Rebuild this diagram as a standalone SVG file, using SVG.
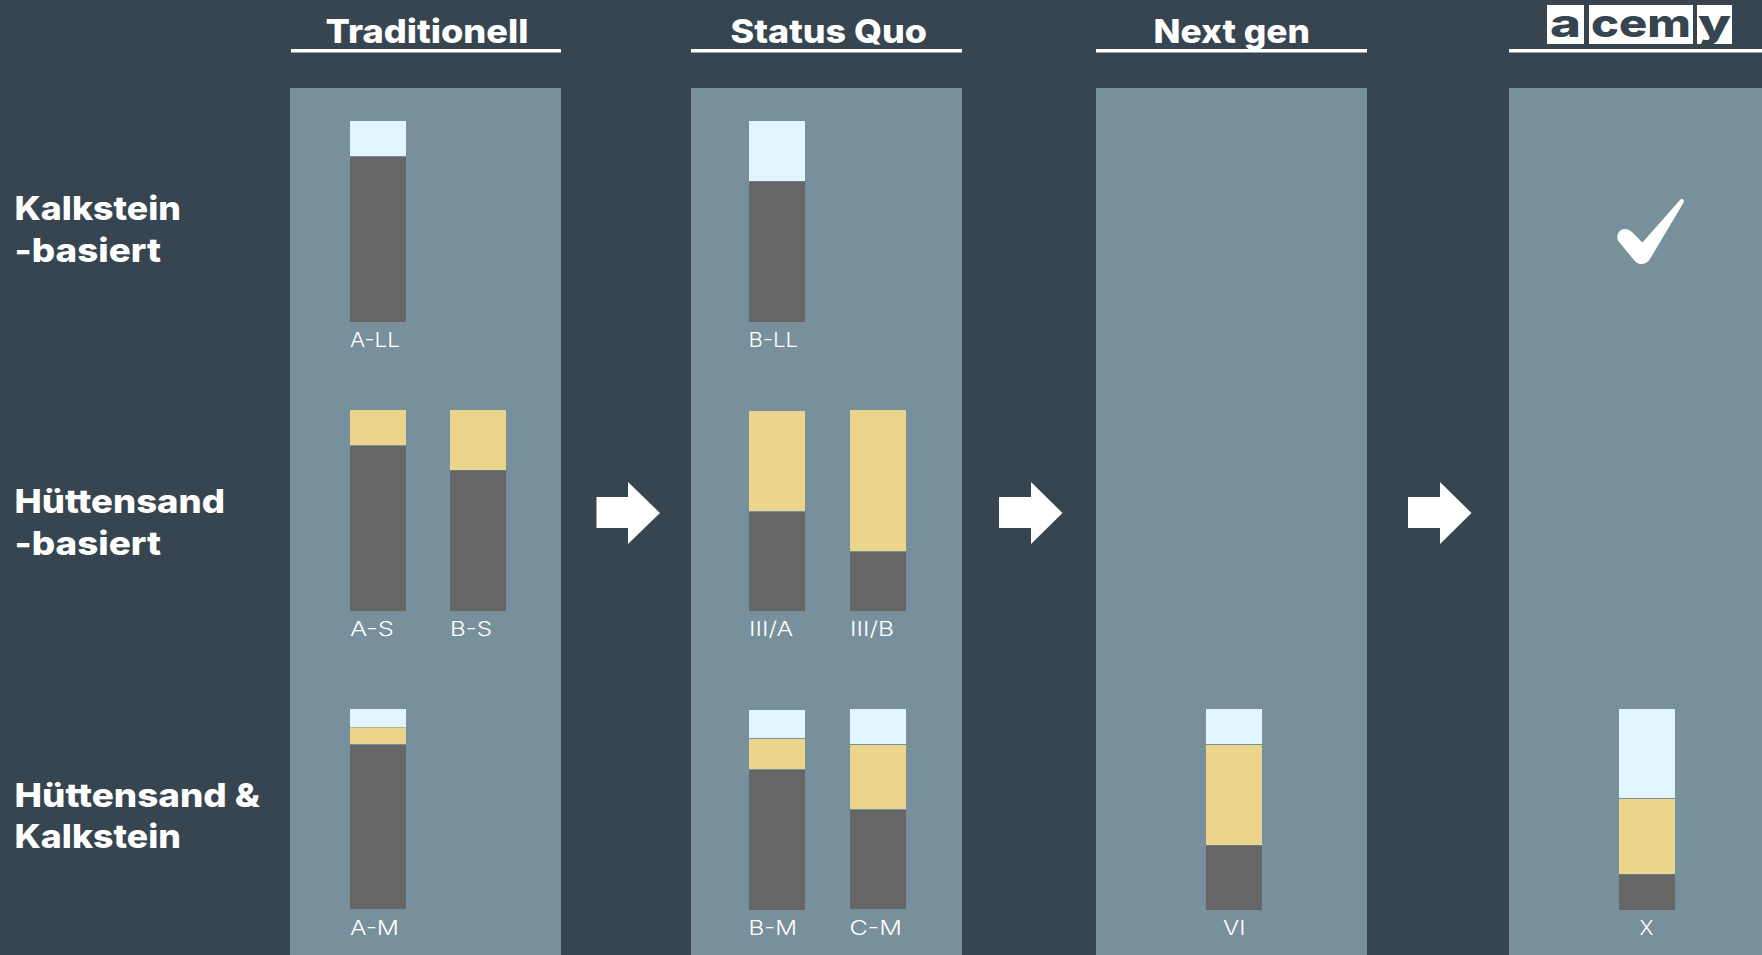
<svg xmlns="http://www.w3.org/2000/svg" width="1762" height="955" viewBox="0 0 1762 955">
<style>
.panel{fill:#78909c}
.g{fill:#666666}
.b{fill:#e1f5fe}
.y{fill:#ebd58d}
.rule{fill:#ffffff}
.arrow{fill:#ffffff}
.head{font-family:"Inter","Liberation Sans",sans-serif;font-weight:800;font-size:33px;fill:#ffffff}
.row{font-family:"Inter","Liberation Sans",sans-serif;font-weight:800;font-size:33px;fill:#ffffff}
.lab{font-family:"Inter","Liberation Sans",sans-serif;font-weight:300;font-size:20px;fill:#ffffff}
.logo{font-family:"Inter","Liberation Sans",sans-serif;font-weight:800;font-size:38px;fill:#36454f}
</style>
<rect width="1762" height="955" fill="#36454f"/>
<g id="col-traditionell">
<rect class="panel" x="290" y="88" width="271" height="867"/>
<rect class="rule" x="291" y="49" width="270" height="3.5"/>
<text class="head" x="325.5" y="43" textLength="203" lengthAdjust="spacingAndGlyphs">Traditionell</text>
</g>
<g id="col-status-quo">
<rect class="panel" x="691" y="88" width="271" height="867"/>
<rect class="rule" x="691" y="49" width="271" height="3.5"/>
<text class="head" x="730.5" y="43" textLength="196.5" lengthAdjust="spacingAndGlyphs">Status Quo</text>
</g>
<g id="col-next-gen">
<rect class="panel" x="1096" y="88" width="271" height="867"/>
<rect class="rule" x="1096" y="49" width="271" height="3.5"/>
<text class="head" x="1153.5" y="43" textLength="156.5" lengthAdjust="spacingAndGlyphs">Next gen</text>
</g>
<g id="col-acemy">
<rect class="panel" x="1509" y="88" width="253" height="867"/>
<rect class="rule" x="1509" y="49" width="253" height="3.5"/>
</g>
<g id="logo-acemy">
<rect fill="#ffffff" x="1547" y="5" width="37" height="39"/>
<rect fill="#ffffff" x="1589" y="5" width="104" height="39"/>
<rect fill="#ffffff" x="1697" y="5" width="35" height="39"/>
<text class="logo" x="1550" y="37" textLength="31" lengthAdjust="spacingAndGlyphs">a</text>
<text class="logo" x="1591" y="37" textLength="100" lengthAdjust="spacingAndGlyphs">cem</text>
<text class="logo" x="1698" y="37" textLength="33" lengthAdjust="spacingAndGlyphs">y</text>
</g>
<g id="row-kalkstein">
<text class="row" x="14.5" y="220" textLength="166.5" lengthAdjust="spacingAndGlyphs">Kalkstein</text>
<text class="row" x="14.5" y="262" textLength="146.5" lengthAdjust="spacingAndGlyphs">-basiert</text>
</g>
<g id="row-huettensand">
<text class="row" x="14.5" y="512.5" textLength="210.5" lengthAdjust="spacingAndGlyphs">Hüttensand</text>
<text class="row" x="14.5" y="554.5" textLength="146.5" lengthAdjust="spacingAndGlyphs">-basiert</text>
</g>
<g id="row-mix">
<text class="row" x="14.5" y="806.5" textLength="245.5" lengthAdjust="spacingAndGlyphs">Hüttensand &amp;</text>
<text class="row" x="14.5" y="848" textLength="166.5" lengthAdjust="spacingAndGlyphs">Kalkstein</text>
</g>
<g id="bar-a-ll">
<rect class="b" x="350" y="121" width="56" height="35"/>
<rect class="g" x="350" y="157" width="56" height="165"/>
<text class="lab" x="350" y="347" textLength="50" lengthAdjust="spacingAndGlyphs">A-LL</text>
</g>
<g id="bar-b-ll">
<rect class="b" x="749" y="121" width="56" height="60"/>
<rect class="g" x="749" y="181.5" width="56" height="140.5"/>
<text class="lab" x="748.5" y="347" textLength="49.5" lengthAdjust="spacingAndGlyphs">B-LL</text>
</g>
<g id="bar-a-s">
<rect class="y" x="350" y="410" width="56" height="35"/>
<rect class="g" x="350" y="446" width="56" height="165"/>
<text class="lab" x="350" y="635.5" textLength="44" lengthAdjust="spacingAndGlyphs">A-S</text>
</g>
<g id="bar-b-s">
<rect class="y" x="450" y="410" width="56" height="60"/>
<rect class="g" x="450" y="470.5" width="56" height="140.5"/>
<text class="lab" x="450" y="635.5" textLength="42" lengthAdjust="spacingAndGlyphs">B-S</text>
</g>
<g id="bar-iii-a">
<rect class="y" x="749" y="411" width="56" height="100"/>
<rect class="g" x="749" y="512" width="56" height="99"/>
<text class="lab" x="749" y="635.5" textLength="44" lengthAdjust="spacingAndGlyphs">III/A</text>
</g>
<g id="bar-iii-b">
<rect class="y" x="850" y="410" width="56" height="141"/>
<rect class="g" x="850" y="552" width="56" height="59"/>
<text class="lab" x="850" y="635.5" textLength="44" lengthAdjust="spacingAndGlyphs">III/B</text>
</g>
<g id="bar-a-m">
<rect class="b" x="350" y="709" width="56" height="18"/>
<rect class="y" x="350" y="727.5" width="56" height="16.5"/>
<rect class="g" x="350" y="745" width="56" height="164"/>
<text class="lab" x="350" y="934.5" textLength="49" lengthAdjust="spacingAndGlyphs">A-M</text>
</g>
<g id="bar-b-m">
<rect class="b" x="749" y="710" width="56" height="28"/>
<rect class="y" x="749" y="739" width="56" height="30"/>
<rect class="g" x="749" y="770" width="56" height="140"/>
<text class="lab" x="748.5" y="934.5" textLength="48.5" lengthAdjust="spacingAndGlyphs">B-M</text>
</g>
<g id="bar-c-m">
<rect class="b" x="850" y="709" width="56" height="35"/>
<rect class="y" x="850" y="745" width="56" height="64"/>
<rect class="g" x="850" y="810" width="56" height="99"/>
<text class="lab" x="849.5" y="934.5" textLength="52.5" lengthAdjust="spacingAndGlyphs">C-M</text>
</g>
<g id="bar-vi">
<rect class="b" x="1206" y="709" width="56" height="35"/>
<rect class="y" x="1206" y="745" width="56" height="100"/>
<rect class="g" x="1206" y="845.5" width="56" height="64.5"/>
<text class="lab" x="1223" y="934.5" textLength="22.5" lengthAdjust="spacingAndGlyphs">VI</text>
</g>
<g id="bar-x">
<rect class="b" x="1619" y="709" width="56" height="89"/>
<rect class="y" x="1619" y="799" width="56" height="75"/>
<rect class="g" x="1619" y="874.5" width="56" height="35.5"/>
<text class="lab" x="1639.5" y="934.5" textLength="14" lengthAdjust="spacingAndGlyphs">X</text>
</g>
<g id="check">
<path fill="#ffffff" d="M1679.5 200.5Q1682 198 1683.5 200Q1684.5 201.5 1683 203.5L1650 259Q1647 264 1641 264Q1637 264 1634 260L1619 242Q1616 238 1618 233.5Q1620 229 1625 229Q1629 229 1632 232L1642.5 242.5Z"/>
</g>
<g id="connectors">
<polygon class="arrow" points="596.5,497 628,497 628,482 660,513 628,544 628,528 596.5,528"/>
<polygon class="arrow" points="999,497 1031,497 1031,482 1062.5,513 1031,544 1031,528 999,528"/>
<polygon class="arrow" points="1408,497 1440,497 1440,482 1471.5,513 1440,544 1440,528 1408,528"/>
</g>
</svg>
